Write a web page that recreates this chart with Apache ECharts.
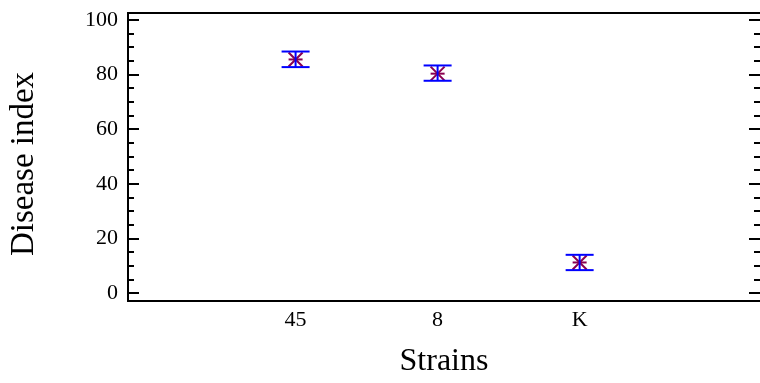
<!DOCTYPE html>
<html>
<head>
<meta charset="utf-8">
<script src="https://cdn.jsdelivr.net/npm/echarts@6/dist/echarts.min.js"></script>
<style>
  html, body { margin: 0; padding: 0; background: #fff; }
  #chart { width: 760px; height: 383px; }
</style>
</head>
<body>
<div id="chart"></div>
<script>
// strain means with interval bounds
var strains = ["45", "8", "K"];
var means = [85.5, 80.3, 11.2];
var lower = [82.7, 77.7, 8.4];
var upper = [88.4, 83.3, 14.0];
var majorTicks = [0, 20, 40, 60, 80, 100];
var minorTicks = [5, 10, 15, 25, 30, 35, 45, 50, 55, 65, 70, 75, 85, 90, 95];

var chart = echarts.init(document.getElementById("chart"));
var font = "Liberation Serif";

var points = strains.map(function (s, i) {
  return [i + 1, lower[i], upper[i], means[i]];
});

function yAxis(pos, ticks, len, labels) {
  return {
    type: "value",
    position: pos,
    min: -2.9,
    max: 102.5,
    axisLine: { show: pos === "left", onZero: false, lineStyle: { color: "#000", width: 2 } },
    axisTick: { show: true, inside: true, length: len, customValues: ticks, lineStyle: { color: "#000", width: 2 } },
    axisLabel: {
      show: labels,
      customValues: ticks,
      color: "#000",
      fontFamily: font,
      fontSize: 22,
      margin: 10,
    },
    splitLine: { show: false },
  };
}

var ya = yAxis("left", majorTicks, 11, true);
ya.name = "Disease index";
ya.nameLocation = "middle";
ya.nameGap = 87;
ya.nameTextStyle = { color: "#000", fontFamily: font, fontSize: 33, padding: [0, 14, 0, 0] };

chart.setOption({
  animation: false,
  grid: { left: 128, right: 0, top: 13, bottom: 81, containLabel: false },
  xAxis: [
    {
      type: "value",
      min: -0.18,
      max: 4.27,
      name: "Strains",
      nameLocation: "middle",
      nameGap: 45,
      nameTextStyle: { color: "#000", fontFamily: font, fontSize: 32 },
      axisLine: { onZero: false, lineStyle: { color: "#000", width: 2 } },
      axisTick: { show: false },
      axisLabel: {
        customValues: [1, 2, 3],
        formatter: function (v) {
          return strains[Math.round(v) - 1];
        },
        color: "#000",
        fontFamily: font,
        fontSize: 22,
        margin: 8,
      },
      splitLine: { show: false },
    },
    {
      type: "value",
      position: "top",
      min: -0.18,
      max: 4.27,
      axisLine: { onZero: false, lineStyle: { color: "#000", width: 2 } },
      axisTick: { show: false },
      axisLabel: { show: false },
      splitLine: { show: false },
    },
  ],
  yAxis: [
    ya,
    yAxis("left", minorTicks, 6, false),
    yAxis("right", majorTicks, 11, false),
    yAxis("right", minorTicks, 6, false),
  ],
  series: [
    {
      type: "custom",
      xAxisIndex: 0,
      yAxisIndex: 0,
      data: points,
      renderItem: function (params, api) {
        var x = api.value(0);
        var top = api.coord([x, api.value(2)]);
        var bot = api.coord([x, api.value(1)]);
        var mid = api.coord([x, api.value(3)]);
        var w = 14, r = 7;
        var blue = { stroke: "#0000ff", lineWidth: 2 };
        var mk = { stroke: "#8a0050", lineWidth: 2 };
        return {
          type: "group",
          children: [
            { type: "line", shape: { x1: mid[0] - r, y1: mid[1], x2: mid[0] + r, y2: mid[1] }, style: mk },
            { type: "line", shape: { x1: mid[0] - r, y1: mid[1] - r, x2: mid[0] + r, y2: mid[1] + r }, style: mk },
            { type: "line", shape: { x1: mid[0] - r, y1: mid[1] + r, x2: mid[0] + r, y2: mid[1] - r }, style: mk },
            { type: "line", shape: { x1: top[0], y1: top[1], x2: bot[0], y2: bot[1] }, style: blue },
            { type: "line", shape: { x1: top[0] - w, y1: top[1], x2: top[0] + w, y2: top[1] }, style: blue },
            { type: "line", shape: { x1: bot[0] - w, y1: bot[1], x2: bot[0] + w, y2: bot[1] }, style: blue },
          ],
        };
      },
    },
  ],
});
</script>
</body>
</html>
